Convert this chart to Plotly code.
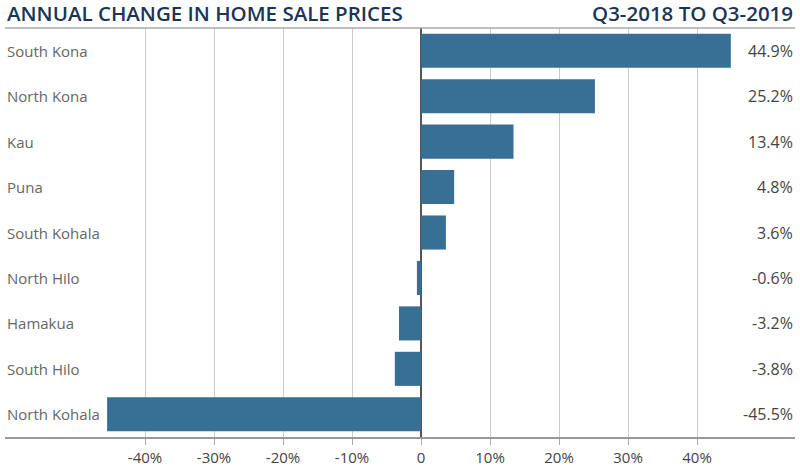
import plotly.graph_objects as go

regions = ["South Kona", "North Kona", "Kau", "Puna", "South Kohala",
           "North Hilo", "Hamakua", "South Hilo", "North Kohala"]
changes = [44.9, 25.2, 13.4, 4.8, 3.6, -0.6, -3.2, -3.8, -45.5]
value_labels = ["44.9%", "25.2%", "13.4%", "4.8%", "3.6%", "-0.6%", "-3.2%", "-3.8%", "-45.5%"]
tick_vals = [-40, -30, -20, -10, 0, 10, 20, 30, 40]
tick_text = ["-40%", "-30%", "-20%", "-10%", "0", "10%", "20%", "30%", "40%"]
title_left = "ANNUAL CHANGE IN HOME SALE PRICES"
title_right = "Q3-2018 TO Q3-2019"

BAR = "#386f94"
NAVY = "#1b3557"

fig = go.Figure(go.Bar(
    x=changes, y=regions, orientation="h",
    marker=dict(color=BAR, line=dict(width=0)),
    hoverinfo="skip",
))

annotations = []
for r, lab in zip(regions, value_labels):
    annotations.append(dict(x=0, xref="paper", y=r, yref="y", text=r,
                            xanchor="left", yanchor="middle", showarrow=False,
                            font=dict(family="Open Sans", size=15, color="#666666")))
    annotations.append(dict(x=1, xref="paper", y=r, yref="y", text=lab,
                            xanchor="right", yanchor="middle", showarrow=False,
                            font=dict(family="Open Sans", size=16, color="#444444")))
annotations.append(dict(x=0, xref="paper", y=1, yref="paper", text=title_left,
                        xanchor="left", yanchor="bottom", yshift=-1, showarrow=False,
                        font=dict(family="Open Sans", size=20.5, color=NAVY, weight=600)))
annotations.append(dict(x=1, xref="paper", y=1, yref="paper", text=title_right,
                        xanchor="right", yanchor="bottom", yshift=-1, showarrow=False,
                        font=dict(family="Open Sans", size=20.5, color=NAVY, weight=600)))

fig.update_layout(
    width=800, height=476,
    margin=dict(l=5, r=5, t=28, b=39),
    paper_bgcolor="white", plot_bgcolor="white",
    showlegend=False, bargap=0.25,
    annotations=annotations,
    shapes=[dict(type="line", xref="paper", yref="paper", x0=0, x1=1, y0=1, y1=1,
                 line=dict(color="#aaaaaa", width=1.5))],
    xaxis=dict(range=[-60.3, 54.2], tickvals=tick_vals, ticktext=tick_text,
               showgrid=True, gridcolor="#cccccc", gridwidth=1,
               zeroline=True, zerolinecolor="#555555", zerolinewidth=1.5,
               showline=True, linecolor="#999999", linewidth=1.5,
               ticks="outside", ticklen=6, tickcolor="#aaaaaa",
               tickfont=dict(family="Open Sans", size=15, color="#444444"),
               fixedrange=True),
    yaxis=dict(categoryorder="array", categoryarray=regions, autorange="reversed",
               showticklabels=False, showgrid=False, zeroline=False, fixedrange=True),
)

fig.write_html("out.html", config={"displayModeBar": False},
               post_script="document.body.style.margin='0';document.body.style.overflow='hidden';")
